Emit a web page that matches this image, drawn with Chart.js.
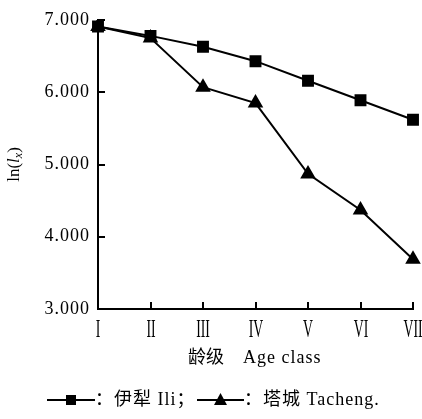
<!DOCTYPE html>
<html>
<head>
<meta charset="utf-8">
<script src="https://cdn.jsdelivr.net/npm/chart.js@4.4.1/dist/chart.umd.min.js"></script>
<style>
  html, body { margin: 0; padding: 0; background: #fff; }
  #wrap { width: 422px; height: 419px; position: relative; }
</style>
</head>
<body>
<div id="wrap"><canvas id="c" width="422" height="419"></canvas></div>
<script>
const categories = ['I', 'II', 'III', 'IV', 'V', 'VI', 'VII'];
const iliValues = [6.91, 6.78, 6.63, 6.43, 6.16, 5.89, 5.62];
const tachengValues = [6.91, 6.75, 6.07, 5.85, 4.87, 4.37, 3.69];
const yTicks = [3, 4, 5, 6, 7];
const seriesNames = ['：伊犁 Ili；', '：塔城 Tacheng.'];
const xTitleCn = '龄级';
const xTitleEn = 'Age class';

const SERIF = "'Liberation Serif', 'Noto Sans CJK SC', serif";

const decorPlugin = {
  id: 'decor',
  beforeDraw(chart) {
    chart.ctx.letterSpacing = '1px';
  },
  afterDraw(chart) {
    const ctx = chart.ctx;
    const area = chart.chartArea;
    const xs = chart.scales.x, ys = chart.scales.y;
    ctx.save();
    ctx.letterSpacing = '0px';
    ctx.strokeStyle = '#000';
    ctx.fillStyle = '#000';
    ctx.lineWidth = 2;
    // inward y ticks
    yTicks.forEach(v => {
      if (v === ys.min) return;
      const py = Math.round(ys.getPixelForValue(v));
      ctx.beginPath();
      ctx.moveTo(area.left, py);
      ctx.lineTo(area.left + 7, py);
      ctx.stroke();
    });
    // inward x ticks + roman numeral labels (narrow, tall)
    categories.forEach((c, i) => {
      const px = Math.round(xs.getPixelForValue(i));
      if (i > 0) {
        ctx.beginPath();
        ctx.moveTo(px, area.bottom);
        ctx.lineTo(px, area.bottom - 7);
        ctx.stroke();
      }
      ctx.save();
      ctx.translate(px, 337);
      ctx.scale(0.55, 1);
      ctx.font = "25px 'Liberation Serif', serif";
      ctx.textAlign = 'center';
      ctx.textBaseline = 'alphabetic';
      ctx.fillText(c, 0, 0);
      ctx.restore();
    });
    // y title ln(l_x)
    ctx.save();
    ctx.translate(13, (area.top + area.bottom) / 2);
    ctx.rotate(-Math.PI / 2);
    ctx.textBaseline = 'alphabetic';
    ctx.textAlign = 'left';
    const parts = [
      { t: 'ln(', f: "17px " + SERIF, dy: 0 },
      { t: 'l', f: "italic 17px " + SERIF, dy: 0 },
      { t: 'x', f: "italic 12px " + SERIF, dy: 3 },
      { t: ')', f: "17px " + SERIF, dy: 0 }
    ];
    let total = 0;
    parts.forEach(p => { ctx.font = p.f; p.w = ctx.measureText(p.t).width; total += p.w; });
    let x = -total / 2;
    parts.forEach(p => { ctx.font = p.f; ctx.fillText(p.t, x, 6 + p.dy); x += p.w; });
    ctx.restore();
    // x title
    ctx.font = "18px " + SERIF;
    ctx.textAlign = 'left';
    ctx.textBaseline = 'alphabetic';
    ctx.fillText(xTitleCn, 188, 363);
    ctx.letterSpacing = '1px';
    ctx.fillText(xTitleEn, 243, 363);
    // legend
    const ly = 400;
    const drawItem = (x0, x1, style, label) => {
      ctx.beginPath();
      ctx.moveTo(x0, ly);
      ctx.lineTo(x1, ly);
      ctx.lineWidth = 2;
      ctx.stroke();
      const cx = (x0 + x1) / 2;
      ctx.beginPath();
      if (style === 'rect') {
        ctx.rect(cx - 5, ly - 5, 10, 10);
      } else {
        ctx.moveTo(cx, ly - 7);
        ctx.lineTo(cx + 6.5, ly + 5);
        ctx.lineTo(cx - 6.5, ly + 5);
        ctx.closePath();
      }
      ctx.fill();
      ctx.font = "18px " + SERIF;
      ctx.textAlign = 'left';
      ctx.textBaseline = 'middle';
      ctx.letterSpacing = '1px';
      ctx.fillText(label, x1, ly);
    };
    drawItem(47, 95, 'rect', seriesNames[0]);
    drawItem(197, 244, 'triangle', seriesNames[1]);
    ctx.restore();
    ctx.letterSpacing = '0px';
  }
};

new Chart(document.getElementById('c'), {
  type: 'line',
  data: {
    labels: categories,
    datasets: [
      {
        label: '伊犁 Ili',
        data: iliValues,
        borderColor: '#000',
        backgroundColor: '#000',
        borderWidth: 2,
        pointStyle: 'rect',
        pointRadius: 7,
        pointHoverRadius: 7,
        tension: 0
      },
      {
        label: '塔城 Tacheng',
        data: tachengValues,
        borderColor: '#000',
        backgroundColor: '#000',
        borderWidth: 2,
        pointStyle: 'triangle',
        pointRadius: 7,
        pointHoverRadius: 7,
        tension: 0
      }
    ]
  },
  options: {
    responsive: false,
    animation: false,
    devicePixelRatio: 1,
    layout: { padding: { left: 0, right: 7, top: 20, bottom: 0 } },
    plugins: {
      legend: { display: false },
      tooltip: { enabled: false },
      title: { display: false }
    },
    scales: {
      x: {
        type: 'category',
        offset: false,
        grid: { display: true, drawOnChartArea: false, drawTicks: false },
        border: { display: true, color: '#000', width: 2 },
        ticks: { display: false, autoSkip: false, maxRotation: 0 },
        afterFit(scale) {
          scale.height = 110;
          scale.paddingLeft = 0;
          scale.paddingRight = 0;
        }
      },
      y: {
        min: 3,
        max: 7,
        afterBuildTicks(scale) {
          scale.ticks = yTicks.map(v => ({ value: v }));
        },
        grid: { display: true, drawOnChartArea: false, drawTicks: false },
        border: { display: true, color: '#000', width: 2 },
        ticks: {
          color: '#000',
          padding: 8,
          callback: v => Number(v).toFixed(3),
          font: { family: SERIF, size: 18 }
        },
        afterFit(scale) {
          scale.width = 98;
          scale.paddingTop = 0;
          scale.paddingBottom = 0;
        }
      }
    }
  },
  plugins: [decorPlugin]
});
</script>
</body>
</html>
